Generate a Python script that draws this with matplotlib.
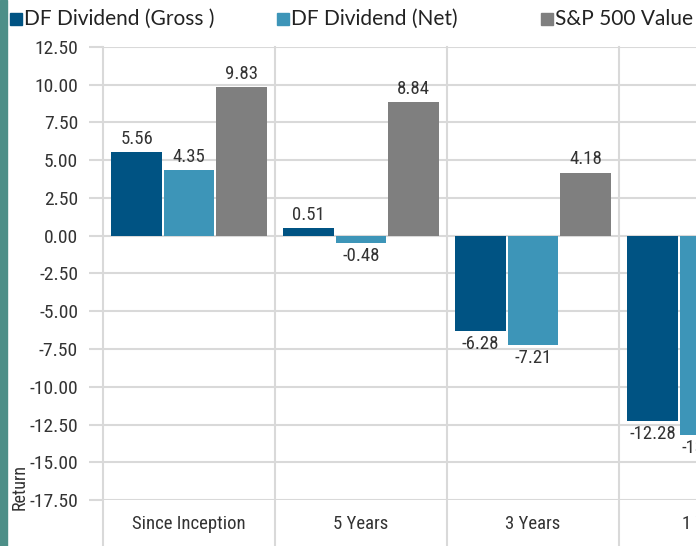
import numpy as np
import matplotlib
matplotlib.use('Agg')
import matplotlib.pyplot as plt
from matplotlib.patches import Rectangle
from matplotlib import font_manager

# data
categories = ['Since Inception', '5 Years', '3 Years', '1 Year']
series_names = ['DF Dividend (Gross )', 'DF Dividend (Net)', 'S&P 500 Value']
gross = [5.56, 0.51, -6.28, -12.28]
net = [4.35, -0.48, -7.21, -13.19]
sp500 = [9.83, 8.84, 4.18, np.nan]  # last one is cut off in the picture
colors = ['#005383', '#3d95b8', '#7f7f7f']

y_ticks = np.arange(-17.5, 12.51, 2.5)

# find some condensed face for the number labels
names = sorted({f.name for f in font_manager.fontManager.ttflist})
narrow_font = None
for cand in ['Roboto Condensed', 'Liberation Sans Narrow', 'Arial Narrow',
             'DejaVu Sans Condensed', 'Open Sans Condensed']:
    if cand in names:
        narrow_font = cand
        break
if narrow_font is None:
    for n in names:
        if 'Condensed' in n or 'Narrow' in n:
            narrow_font = n
            break
if narrow_font is None:
    narrow_font = 'Roboto'
narrow = [narrow_font, 'DejaVu Sans']
grid_c = '#d9d9d9'

fig = plt.figure(figsize=(6.96, 5.46), dpi=100)
W, H = 696, 546

# axes runs past the right edge, picture is cropped there
ax = fig.add_axes([103 / W, 1 - 500 / H, 688 / W, 453 / H])
ax.set_xlim(0, 4)
ax.set_ylim(-17.5, 12.5)

x = np.arange(len(categories)) + 0.5
width = 0.296
step = 0.305
for k, vals in enumerate([gross, net, sp500]):
    pos = x + (k - 1) * step
    bars = ax.bar(pos, vals, width, color=colors[k], zorder=3)
    for xp, v in zip(pos, vals):
        if np.isnan(v):
            continue
        ax.annotate('%.2f' % v, (xp, v), xytext=(0, 3 if v >= 0 else -3),
                    textcoords='offset points', ha='center',
                    va='bottom' if v >= 0 else 'top',
                    family=narrow, fontsize=13.5, color='#333333',
                    annotation_clip=False)

# gridlines + category separators
for yt in y_ticks:
    ax.axhline(yt, color=grid_c, lw=1.5, zorder=1)
for b in range(len(categories) + 1):
    ax.axvline(b, ymin=-0.102, ymax=1, color=grid_c, lw=1.5, zorder=1,
               clip_on=False)

for s in ax.spines.values():
    s.set_visible(False)

ax.set_yticks(y_ticks)
ax.set_yticklabels(['%.2f' % t for t in y_ticks], family=narrow,
                   fontsize=14, color='#333333')
ax.tick_params(axis='y', length=10, width=1.5, color=grid_c, pad=8)

ax.set_xticks(x)
ax.set_xticklabels(categories, family=narrow, fontsize=13.5, color='#333333')
ax.tick_params(axis='x', length=0, pad=11)

fig.text(20 / W, 1 - 487 / H, 'Return', rotation=90, ha='center',
         va='center', family=narrow, fontsize=13, color='#333333')

# legend drawn by hand at the top
leg_x = [10, 277, 541]
for lx, name, c in zip(leg_x, series_names, colors):
    fig.patches.append(Rectangle((lx / W, 1 - 25 / H), 12 / W, 12 / H,
                                 transform=fig.transFigure, color=c))
    fig.text((lx + 14) / W, 1 - 19 / H, name, ha='left', va='center',
             family=['Lato', 'DejaVu Sans'], fontsize=15, color='#222222')

# teal strip on the left edge
fig.patches.append(Rectangle((0, 0), 7 / W, 1, transform=fig.transFigure,
                             color='#4d8f88'))

fig.savefig('out.png', dpi=100)
